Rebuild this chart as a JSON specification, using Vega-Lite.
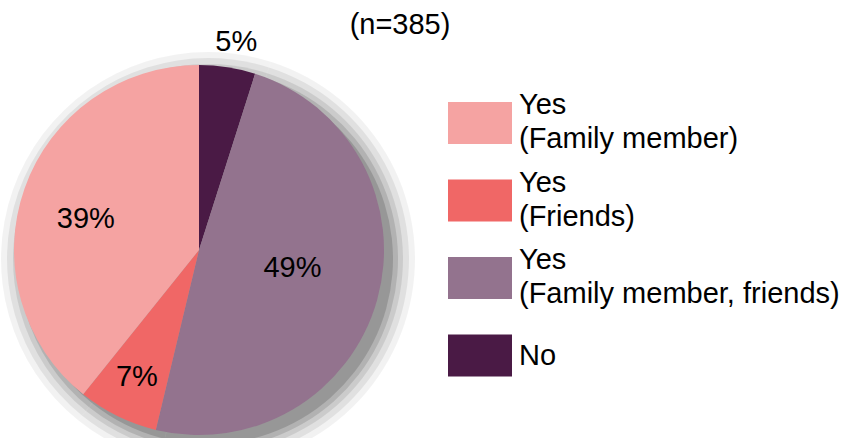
{
  "$schema": "https://vega.github.io/schema/vega-lite/v6.json",
  "width": 370,
  "height": 370,
  "autosize": {"type": "none"},
  "padding": {"left": 14, "top": 65, "right": 463, "bottom": 3},
  "background": "white",
  "title": {
    "text": "(n=385)",
    "fontSize": 29,
    "font": "Liberation Sans",
    "fontWeight": "normal",
    "color": "black",
    "anchor": "middle",
    "frame": "group",
    "dx": 201,
    "baseline": "alphabetic",
    "offset": -35
  },
  "data": {
    "values": [
      {"cat": "No", "share": 0.049},
      {"cat": "Yes (Family member, friends)", "share": 0.488},
      {"cat": "Yes (Friends)", "share": 0.070},
      {"cat": "Yes (Family member)", "share": 0.392}
    ]
  },
  "transform": [{"window": [{"op": "row_number", "as": "idx"}]}],
  "encoding": {
    "theta": {"field": "share", "type": "quantitative", "stack": true},
    "order": {"field": "idx", "type": "quantitative"}
  },
  "layer": [
    {
      "mark": {"type": "arc", "radius": 207, "color": "#000000", "opacity": 0.05, "xOffset": 9, "yOffset": 9, "stroke": null},
      "encoding": {"detail": {"field": "cat"}}
    },
    {
      "mark": {"type": "arc", "radius": 201, "color": "#000000", "opacity": 0.07, "xOffset": 9, "yOffset": 9, "stroke": null},
      "encoding": {"detail": {"field": "cat"}}
    },
    {
      "mark": {"type": "arc", "radius": 195, "color": "#000000", "opacity": 0.09, "xOffset": 9, "yOffset": 9, "stroke": null},
      "encoding": {"detail": {"field": "cat"}}
    },
    {
      "mark": {"type": "arc", "radius": 190, "color": "#000000", "opacity": 0.12, "xOffset": 9, "yOffset": 9, "stroke": null},
      "encoding": {"detail": {"field": "cat"}}
    },
    {
      "mark": {"type": "arc", "radius": 185, "color": "#000000", "opacity": 0.15, "xOffset": 9, "yOffset": 9, "stroke": null},
      "encoding": {"detail": {"field": "cat"}}
    },
    {
      "mark": {"type": "arc", "stroke": null, "opacity": 1},
      "encoding": {
        "color": {
          "field": "cat",
          "type": "nominal",
          "scale": {
            "domain": ["Yes (Family member)", "Yes (Friends)", "Yes (Family member, friends)", "No"],
            "range": ["#F5A3A2", "#F06766", "#93738E", "#4A1A45"]
          },
          "legend": {
            "orient": "none",
            "legendX": 434,
            "legendY": 26,
            "title": null,
            "symbolType": "M-1,-0.656H1V0.656H-1Z",
            "symbolSize": 4096,
            "symbolStrokeWidth": 0,
            "symbolOpacity": 1,
            "labelFontSize": 29,
            "labelFont": "Liberation Sans",
            "labelColor": "black",
            "labelOffset": 7,
            "labelLimit": 600,
            "rowPadding": 14.5,
            "labelBaseline": {"expr": "datum.value === 'No' ? 'middle' : 'line-bottom'"},
            "labelExpr": "datum.label == 'No' ? 'No' : ['Yes', substring(datum.label, 4)]"
          }
        }
      }
    },
    {
      "mark": {"type": "text", "radius": 120, "dy": 9, "fontSize": 29, "font": "Liberation Sans", "color": "black", "align": "center", "baseline": "middle"},
      "encoding": {
        "detail": {"field": "cat"},
        "text": {"condition": {"test": "datum.cat === 'Yes (Family member)'", "field": "share", "format": ".0%"}, "value": ""}
      }
    },
    {
      "mark": {"type": "text", "radius": 97, "dy": -8, "fontSize": 29, "font": "Liberation Sans", "color": "black", "align": "center", "baseline": "middle"},
      "encoding": {
        "detail": {"field": "cat"},
        "text": {"condition": {"test": "datum.cat === 'Yes (Family member, friends)'", "field": "share", "format": ".0%"}, "value": ""}
      }
    },
    {
      "mark": {"type": "text", "radius": 141, "fontSize": 29, "font": "Liberation Sans", "color": "black", "align": "center", "baseline": "middle"},
      "encoding": {
        "detail": {"field": "cat"},
        "text": {"condition": {"test": "datum.cat === 'Yes (Friends)'", "field": "share", "format": ".0%"}, "value": ""}
      }
    },
    {
      "mark": {"type": "text", "radius": 210, "dx": 5, "fontSize": 29, "font": "Liberation Sans", "color": "black", "align": "center", "baseline": "middle"},
      "encoding": {
        "detail": {"field": "cat"},
        "text": {"condition": {"test": "datum.cat === 'No'", "field": "share", "format": ".0%"}, "value": ""}
      }
    }
  ],
  "config": {
    "view": {"stroke": null},
    "style": {"guide-label": {"lineHeight": 34}}
  }
}
